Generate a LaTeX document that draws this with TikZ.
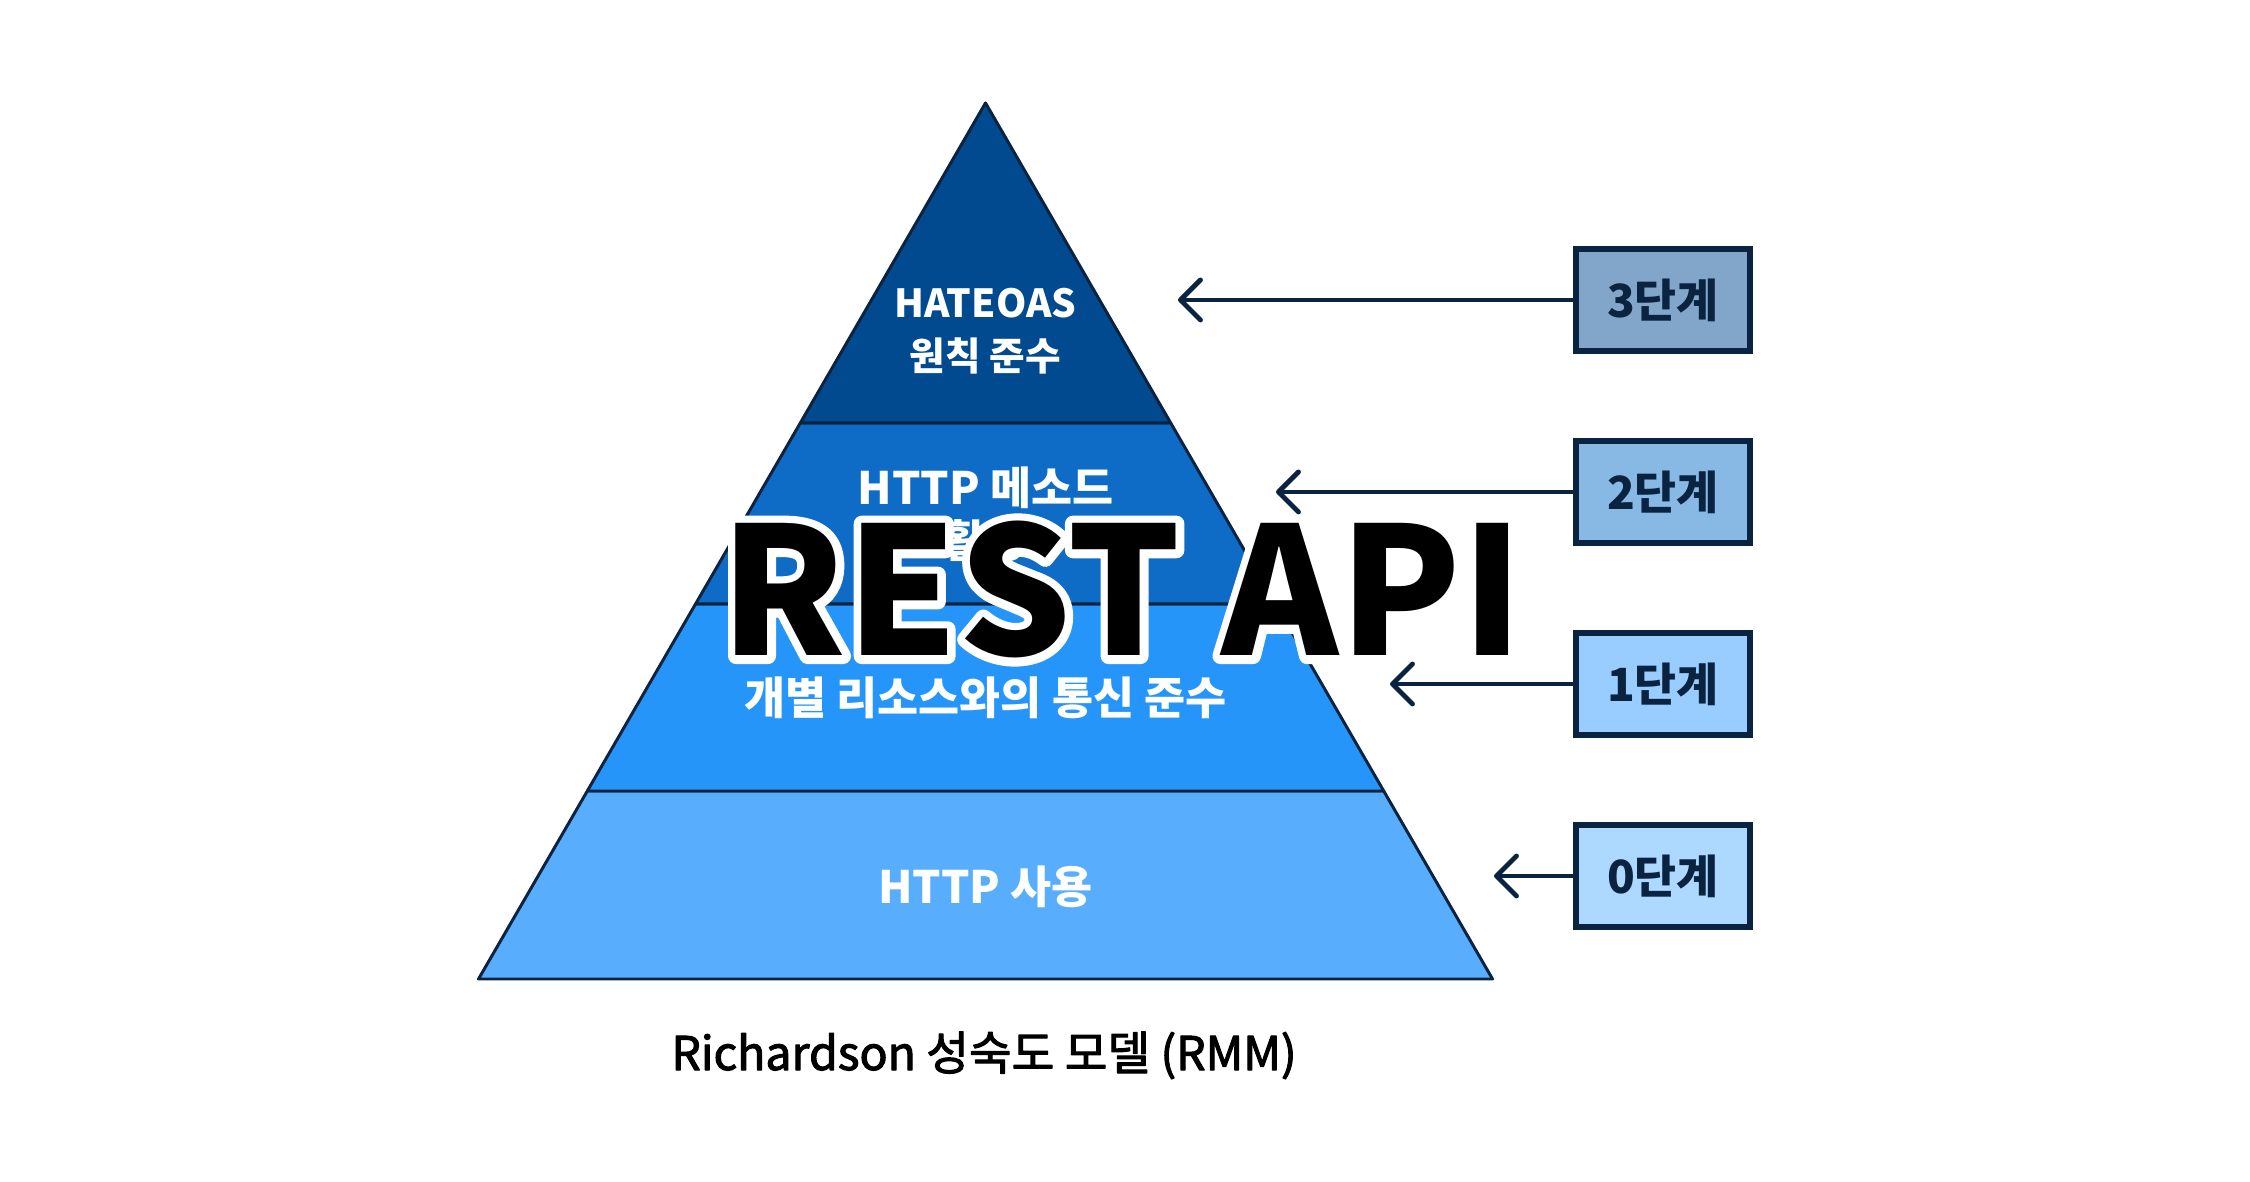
\documentclass[tikz,border=0pt]{standalone}
\usepackage{fontspec}
\setmainfont{Noto Sans CJK KR}
\usetikzlibrary{math, calc, arrows.meta}

\definecolor{navy}{RGB}{10,35,64}
\definecolor{lvthree}{RGB}{2,74,143}
\definecolor{lvtwo}{RGB}{14,108,198}
\definecolor{lvone}{RGB}{38,149,250}
\definecolor{lvzero}{RGB}{88,173,253}
\definecolor{boxthree}{RGB}{130,166,201}
\definecolor{boxtwo}{RGB}{136,184,228}
\definecolor{boxone}{RGB}{153,204,255}
\definecolor{boxzero}{RGB}{173,216,255}

% white stroked text under the title
\newcommand{\strokedtext}[1]{%
    \special{pdf:literal direct 1 Tr 4.6 w 1 j 1 J 1 1 1 RG}#1\special{pdf:literal direct 0 Tr}}
% slightly heavier caption
\newcommand{\heavytext}[1]{%
    \special{pdf:literal direct 2 Tr 0.3 w 1 j 0 0 0 RG}#1\special{pdf:literal direct 0 Tr}}

\begin{document}
\begin{tikzpicture}[line width=1pt,
    layer/.style={draw=navy, line width=0.85pt, line join=round},
    lvtext/.style={text=white, font=\bfseries\fontsize{12.7}{15}\selectfont, align=center},
    stage/.style={draw=navy, line width=1.7pt, minimum width=1.74cm, minimum height=1.02cm,
        inner sep=0pt, text=navy, font=\bfseries\fontsize{13}{15}\selectfont},
    pointer/.style={draw=navy, line width=1.4pt, line cap=round,
        -{Straight Barb[length=2mm, width=4mm, line join=round, line cap=round]}},
    titletext/.style={font=\bfseries\fontsize{50.5}{52}\selectfont, inner sep=0pt, anchor=base}]
    \tikzmath{
        \figwidth=22.5;
        \figheight=11.81;
        \cx=9.855;
        \apex=10.78;
        \base=2.02;
        \halfbase=5.07;
        \ythree=7.58;
        \ytwo=5.77;
        \yone=3.90;
        \wthree=\halfbase*(\apex-\ythree)/(\apex-\base);
        \wtwo=\halfbase*(\apex-\ytwo)/(\apex-\base);
        \wone=\halfbase*(\apex-\yone)/(\apex-\base);
    }

    \coordinate (O) at (0, 0);
    \fill [white] (O) rectangle (\figwidth, \figheight);

    % pyramid
    \coordinate (top) at (\cx, \apex);
    \coordinate (l3) at (\cx-\wthree, \ythree);
    \coordinate (r3) at (\cx+\wthree, \ythree);
    \coordinate (l2) at (\cx-\wtwo, \ytwo);
    \coordinate (r2) at (\cx+\wtwo, \ytwo);
    \coordinate (l1) at (\cx-\wone, \yone);
    \coordinate (r1) at (\cx+\wone, \yone);
    \coordinate (l0) at (\cx-\halfbase, \base);
    \coordinate (r0) at (\cx+\halfbase, \base);
    \filldraw [layer, fill=lvzero] (l1) -- (r1) -- (r0) -- (l0) -- cycle;
    \filldraw [layer, fill=lvone] (l2) -- (r2) -- (r1) -- (l1) -- cycle;
    \filldraw [layer, fill=lvtwo] (l3) -- (r3) -- (r2) -- (l2) -- cycle;
    \filldraw [layer, fill=lvthree] (top) -- (r3) -- (l3) -- cycle;

    \node [lvtext, font=\bfseries\fontsize{11}{15}\selectfont] (hateoas) at (\cx, 8.50) {HATEOAS\\원칙 준수};
    \node [lvtext] (method) at (\cx, 6.67) {HTTP 메소드\\활용};
    \node [lvtext] (resource) at (\cx, 4.83) {개별 리소스와의 통신 준수};
    \node [lvtext] (http) at (\cx, 2.94) {HTTP 사용};

    % stages
    \node [stage, fill=boxthree] (stage3) at (16.63, 8.81) {3단계};
    \node [stage, fill=boxtwo] (stage2) at (16.63, 6.89) {2단계};
    \node [stage, fill=boxone] (stage1) at (16.63, 4.97) {1단계};
    \node [stage, fill=boxzero] (stage0) at (16.63, 3.05) {0단계};

    \coordinate (tip3) at (11.78, 8.81);
    \coordinate (tip2) at (12.76, 6.89);
    \coordinate (tip1) at (13.90, 4.97);
    \coordinate (tip0) at (14.94, 3.05);
    \draw [pointer] (stage3) -- (tip3);
    \draw [pointer] (stage2) -- (tip2);
    \draw [pointer] (stage1) -- (tip1);
    \draw [pointer] (stage0) -- (tip0);

    % title and caption
    \node [titletext] (title) at (11.22, 5.25)
    {\rlap{\strokedtext{REST API}}REST API};
    \node [font=\fontsize{13.2}{15}\selectfont, inner sep=0pt, anchor=base] (rmm) at (9.84, 1.11)
    {\heavytext{Richardson 성숙도 모델 (RMM)}};
\end{tikzpicture}
\end{document}
